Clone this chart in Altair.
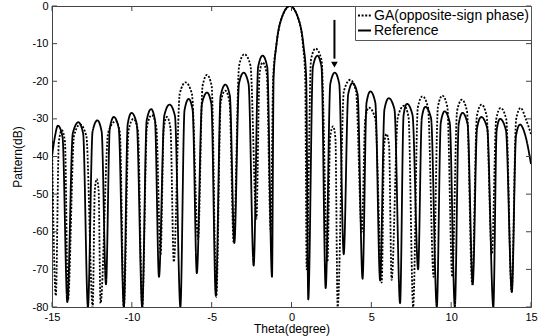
import altair as alt
import pandas as pd

# ---------------- data ----------------
series_names = ["GA(opposite-sign phase)", "Reference"]

ref_theta = [
    -15.0, -14.82, -14.63, -14.34, -14.04,
    -13.70, -13.35, -13.05, -12.75,
    -12.46, -12.16, -11.89, -11.62,
    -11.38, -11.13, -10.82, -10.5,
    -10.26, -10.02, -9.69, -9.35,
    -9.07, -8.79, -8.55, -8.3,
    -7.97, -7.64, -7.30, -6.96,
    -6.70, -6.44, -6.19, -5.93,
    -5.61, -5.29, -5.02, -4.74,
    -4.44, -4.14, -3.86, -3.58,
    -3.29, -3.0, -2.69, -2.37,
    -2.09, -1.81, -1.52, -1.22,
    -1.12, -0.95, -0.67, -0.1, 0.47, 0.75, 0.92, 1.05,
    1.34, 1.62, 1.88, 2.14,
    2.43, 2.71, 2.99, 3.27,
    3.55, 3.82, 4.14, 4.45,
    4.70, 4.94, 5.25, 5.55,
    5.82, 6.09, 6.45, 6.8,
    7.02, 7.23, 7.58, 7.93,
    8.16, 8.38, 8.74, 9.1,
    9.35, 9.59, 9.91, 10.23,
    10.47, 10.71, 11.03, 11.35,
    11.62, 11.88, 12.26, 12.64,
    12.85, 13.06, 13.43, 13.8,
    14.06, 14.31, 14.65, 15.0,
]
ref_db = [
    -40, -34.8, -31.8, -34.8, -78.7,
    -33.9, -30.9, -33.9, -80,
    -33.4, -30.4, -33.4, -74,
    -32.5, -29.5, -32.5, -80,
    -31.4, -28.4, -31.4, -80,
    -30.4, -27.4, -30.4, -72,
    -29.2, -26.2, -29.2, -80,
    -27.7, -24.7, -27.7, -71,
    -26.0, -23.0, -26.0, -77,
    -23.9, -20.9, -23.9, -63,
    -20.7, -17.7, -20.7, -69,
    -16.2, -13.2, -16.2, -72,
    -19, -10.5, -3.9, 0, -3.9, -10.5, -19, -78,
    -16.2, -13.2, -16.2, -75,
    -20.7, -17.7, -20.7, -66,
    -23.5, -20.5, -23.5, -72.5,
    -25.7, -22.7, -25.7, -73,
    -27.5, -24.5, -27.5, -79,
    -29.0, -26.0, -29.0, -70,
    -29.8, -26.8, -29.8, -80,
    -31.0, -28.0, -31.0, -80,
    -31.4, -28.4, -31.4, -74,
    -32.5, -29.5, -32.5, -80,
    -33.0, -30.0, -33.0, -76,
    -34.5, -31.5, -34.5, -42,
]

ga_theta = [
    -15.0, -14.76, -14.57, -14.38, -14.19, -14.0,
    -13.62, -13.25, -12.85, -12.45,
    -12.32, -12.2, -12.08, -11.96,
    -11.48, -11.0, -10.75, -10.5,
    -10.2, -9.9, -9.62, -9.35,
    -9.05, -8.75, -8.47, -8.2,
    -8.0, -7.8, -7.58, -7.37,
    -7.0, -6.64, -6.24, -5.85,
    -5.57, -5.29, -5.0, -4.71,
    -4.43, -4.15, -3.88, -3.62,
    -3.28, -2.95, -2.57, -2.2,
    -2.0, -1.81, -1.55, -1.3,
    -1.15, -0.95, -0.67, -0.1, 0.47, 0.72, 0.86, 0.95,
    1.22, 1.5, 1.88, 2.25,
    2.42, 2.6, 2.75, 2.89,
    3.28, 3.68, 4.04, 4.4,
    4.62, 4.85, 5.25, 5.65,
    5.8, 5.95, 6.11, 6.27,
    6.66, 7.05, 7.33, 7.62,
    7.91, 8.2, 8.55, 8.9,
    9.17, 9.45, 9.76, 10.07,
    10.37, 10.67, 10.99, 11.32,
    11.61, 11.9, 12.22, 12.55,
    12.82, 13.1, 13.45, 13.79,
    14.07, 14.35, 14.68, 15.0,
]
ga_db = [
    -36, -77, -36, -33, -36, -78.3,
    -34.5, -31.5, -34.5, -80,
    -49, -46, -49, -79,
    -33.6, -30.6, -33.6, -80,
    -33, -30, -33, -80,
    -32, -29, -32, -66,
    -32.5, -29.5, -32.5, -68,
    -23.3, -20.3, -23.3, -62,
    -21.3, -18.3, -21.3, -77.3,
    -25.5, -22.5, -25.5, -63,
    -15.8, -12.8, -15.8, -56.6,
    -18, -15, -18, -60,
    -19, -10.5, -3.9, 0, -3.9, -10.5, -19, -70,
    -14.3, -11.3, -14.3, -68,
    -35, -32, -35, -80,
    -22.6, -19.6, -22.6, -60,
    -30, -27, -30, -73.5,
    -37, -34, -37, -72.8,
    -29.5, -26.5, -29.5, -80,
    -27, -24, -27, -72,
    -26.8, -23.8, -26.8, -72,
    -27.9, -24.9, -27.9, -74,
    -29.2, -26.2, -29.2, -66,
    -30.1, -27.1, -30.1, -76,
    -30.1, -27.1, -30.1, -34,
]

x_ticks = [-15, -10, -5, 0, 5, 10, 15]
y_ticks = [0, -10, -20, -30, -40, -50, -60, -70, -80]

arrow_theta = [2.69]
arrow_top = [-3.7]
arrow_end = [-14.0]
arrow_head = [-15.6]

# ---------------- tables ----------------
ga_df = pd.DataFrame({"theta": ga_theta, "db": ga_db})
ga_df["series"] = series_names[0]
ga_df["idx"] = range(len(ga_df))
ref_df = pd.DataFrame({"theta": ref_theta, "db": ref_db})
ref_df["series"] = series_names[1]
ref_df["idx"] = range(len(ref_df))
df = pd.concat([ga_df, ref_df], ignore_index=True)

xt_df = pd.DataFrame({"theta": x_ticks})
yt_df = pd.DataFrame({"db": y_ticks})
arrow_df = pd.DataFrame({"theta": arrow_theta, "db": arrow_top, "db2": arrow_end, "head": arrow_head})

W, H = 479, 301
FONT = "Liberation Sans"
x_scale = alt.Scale(domain=[-15, 15], nice=False, zero=False)
y_scale = alt.Scale(domain=[-80, 0], nice=False, zero=False)

x_axis = alt.Axis(values=x_ticks, title="Theta(degree)", ticks=False, domain=False, grid=False,
                  labelExpr="'' + datum.value", labelFontSize=11, titleFontSize=12,
                  labelPadding=4, titlePadding=1, titleFontWeight="normal", labelFlush=False,
                  labelFont=FONT, titleFont=FONT, labelColor="black", titleColor="black")
y_axis = alt.Axis(values=y_ticks, title="Pattern(dB)", ticks=False, domain=False, grid=False,
                  labelExpr="'' + datum.value", labelFontSize=11, titleFontSize=12,
                  labelPadding=4, titlePadding=8, titleFontWeight="normal", labelFlush=False,
                  labelFont=FONT, titleFont=FONT, labelColor="black", titleColor="black")

X = alt.X("theta:Q", scale=x_scale, axis=x_axis)
Y = alt.Y("db:Q", scale=y_scale, axis=y_axis)

lines = alt.Chart(df).mark_line(interpolate="monotone", clip=True, strokeWidth=1.8, color="black").encode(
    x=X,
    y=Y,
    strokeDash=alt.StrokeDash(
        "series:N",
        scale=alt.Scale(domain=series_names, range=[[2, 1.6], [1, 0]]),
        legend=alt.Legend(
            title=None, orient="top-right", offset=0, fillColor="white", strokeColor="#555",
            padding=2, rowPadding=0, symbolType="stroke", symbolSize=169, symbolStrokeWidth=2,
            symbolStrokeColor="black", labelFontSize=14, labelFont=FONT, labelColor="black",
            labelOffset=2, labelLimit=300,
        ),
    ),
    detail="series:N",
    order="idx:Q",
)

tick_style = dict(color="#444", strokeWidth=1)
x_ticks_bottom = alt.Chart(xt_df).mark_rule(**tick_style).encode(x=X, y=alt.value(H), y2=alt.value(H - 5))
x_ticks_top = alt.Chart(xt_df).mark_rule(**tick_style).encode(x=X, y=alt.value(0), y2=alt.value(5))
y_ticks_left = alt.Chart(yt_df).mark_rule(**tick_style).encode(y=Y, x=alt.value(0), x2=alt.value(5))
y_ticks_right = alt.Chart(yt_df).mark_rule(**tick_style).encode(y=Y, x=alt.value(W), x2=alt.value(W - 5))

arrow_shaft = alt.Chart(arrow_df).mark_rule(color="black", strokeWidth=2).encode(
    x=X, y=Y, y2="db2:Q")
arrow_tip = alt.Chart(arrow_df).mark_point(shape="triangle-down", filled=True, color="black",
                                           size=45, opacity=1).encode(
    x=X, y=alt.Y("head:Q", scale=y_scale, axis=y_axis))

chart = alt.layer(
    lines, x_ticks_bottom, x_ticks_top, y_ticks_left, y_ticks_right, arrow_shaft, arrow_tip
).properties(
    width=W, height=H,
    autosize=alt.AutoSizeParams(type="none"),
    padding={"left": 52, "top": 6, "right": 13, "bottom": 29},
    background="white",
).configure_view(stroke="#444", strokeWidth=1)

chart.save("out.html", embed_options={"renderer": "svg", "actions": False})
